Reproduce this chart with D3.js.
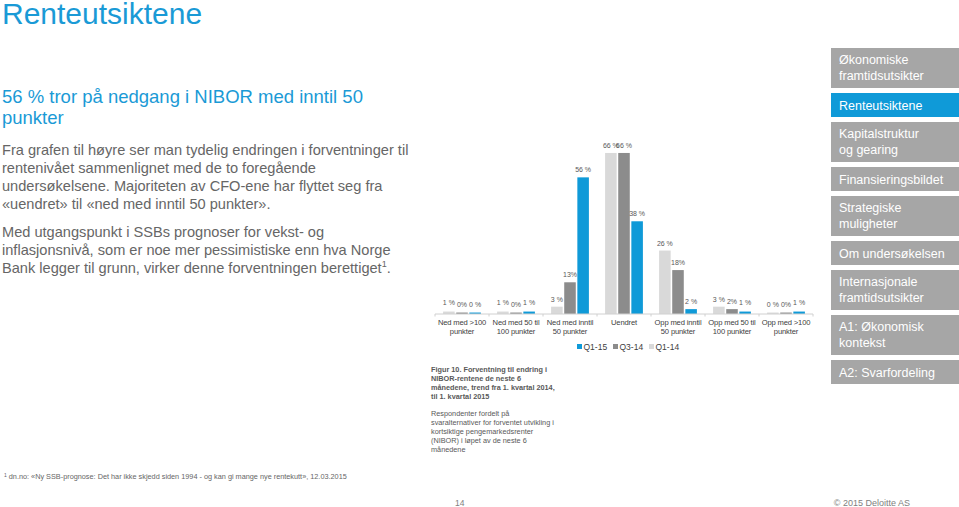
<!DOCTYPE html>
<html><head><meta charset="utf-8">
<script src="https://cdn.jsdelivr.net/npm/d3@7"></script>
<style>
html,body{margin:0;padding:0;background:#fff;}
svg{display:block;font-family:"Liberation Sans",Arial,sans-serif;}
</style></head>
<body>
<script>
const categories = [["Ned med >100","punkter"],["Ned med 50 til","100 punkter"],["Ned med inntil","50 punkter"],["Uendret"],["Opp med inntil","50 punkter"],["Opp med 50 til","100 punkter"],["Opp med >100","punkter"]];
const seriesNames = ["Q1-14","Q3-14","Q1-15"];
const q1_14 = [1,1,3,66,26,3,0];
const q3_14 = [0,0,13,66,18,2,0];
const q1_15 = [0,1,56,38,2,1,1];
const labels_q1_14 = ["1 %","1 %","3 %","66 %","26 %","3 %","0 %"];
const labels_q3_14 = ["0%","0%","13%","66 %","18%","2%","0%"];
const labels_q1_15 = ["0 %","1 %","56 %","38 %","2 %","1 %","1 %"];
const legendOrder = ["Q1-15","Q3-14","Q1-14"];
const menuItems = [["Økonomiske","framtidsutsikter"],["Renteutsiktene"],["Kapitalstruktur","og gearing"],["Finansieringsbildet"],["Strategiske","muligheter"],["Om undersøkelsen"],["Internasjonale","framtidsutsikter"],["A1: Økonomisk","kontekst"],["A2: Svarfordeling"]];
const activeMenu = "Renteutsiktene";

const W = 959, H = 507;
const blue = "#0f9ad8", titleBlue = "#1a9ad6";
const colors = {"Q1-14":"#d9d9d9","Q3-14":"#8c8c8c","Q1-15":"#0f9ad8"};
const values = {"Q1-14":q1_14,"Q3-14":q3_14,"Q1-15":q1_15};
const vlabels = {"Q1-14":labels_q1_14,"Q3-14":labels_q3_14,"Q1-15":labels_q1_15};

const svg = d3.select("body").append("svg").attr("width",W).attr("height",H);

// Title
svg.append("text").attr("x",2).attr("y",24).attr("fill",titleBlue)
  .attr("font-size",30).text("Renteutsiktene");

// Subtitle
const sub = svg.append("text").attr("fill",titleBlue).attr("font-size",18.5);
["56 % tror på nedgang i NIBOR med inntil 50","punkter"].forEach((t,i)=>
  sub.append("tspan").attr("x",2).attr("y",103+i*21).text(t));

// Paragraphs
const textCol = "#666666";
const fs = 14.6;
const p1 = ["Fra grafen til høyre ser man tydelig endringen i forventninger til","rentenivået sammenlignet med de to foregående","undersøkelsene. Majoriteten av CFO-ene har flyttet seg fra","«uendret» til «ned med inntil 50 punkter»."];
p1.forEach((t,i)=>svg.append("text").attr("x",2).attr("y",155+i*18).attr("fill",textCol).attr("font-size",fs).text(t));
const p2 = ["Med utgangspunkt i SSBs prognoser for vekst- og","inflasjonsnivå, som er noe mer pessimistiske enn hva Norge"];
p2.forEach((t,i)=>svg.append("text").attr("x",2).attr("y",237+i*18).attr("fill",textCol).attr("font-size",fs).text(t));
const p3 = svg.append("text").attr("x",2).attr("y",273).attr("fill",textCol).attr("font-size",fs);
p3.append("tspan").text("Bank legger til grunn, virker denne forventningen berettiget");
p3.append("tspan").attr("font-size",9).attr("dy",-6).text("1");
p3.append("tspan").attr("dy",6).text(".");

// Chart
const baseY = 314;
const x0 = d3.scaleBand().domain(d3.range(categories.length)).range([435,813]).paddingInner(0.3).paddingOuter(0.15);
const x1 = d3.scaleBand().domain(seriesNames).range([0,x0.bandwidth()]).paddingInner(0.12);
const y = d3.scaleLinear().domain([0,100]).range([baseY, baseY-244]);

const g = svg.append("g");
seriesNames.forEach(s=>{
  g.selectAll(null).data(values[s]).enter().append("rect")
    .attr("x",(d,i)=>x0(i)+x1(s)).attr("width",x1.bandwidth())
    .attr("y",d=>y(Math.max(d,0.6))).attr("height",d=>baseY-y(Math.max(d,0.6)))
    .attr("fill",colors[s]);
  g.selectAll(null).data(values[s]).enter().append("text")
    .attr("x",(d,i)=>x0(i)+x1(s)+x1.bandwidth()/2)
    .attr("y",d=>y(d)-5 - (d<=1?2:0))
    .attr("text-anchor","middle").attr("font-size",7).attr("fill","#595959")
    .text((d,i)=>vlabels[s][i]);
});

// axis
const axis = d3.axisBottom(x0).tickSize(0).tickFormat("");
const ax = svg.append("g").attr("transform",`translate(0,${baseY})`).call(axis);
ax.select(".domain").attr("stroke","#d0d0d0").attr("d","M435,0H813");
const bounds = d3.range(categories.length+1).map(i=> i<categories.length ? x0(i)-x0.step()*x0.paddingInner()/2 : 813);
bounds[0]=435;
ax.selectAll(".bnd").data(bounds).enter().append("line").attr("class","bnd")
  .attr("x1",d=>d).attr("x2",d=>d).attr("y1",0).attr("y2",2.5).attr("stroke","#d0d0d0");

categories.forEach((lines,i)=>{
  const t = svg.append("text").attr("text-anchor","middle").attr("font-size",7.6).attr("letter-spacing",-0.15).attr("fill","#404040");
  lines.forEach((l,j)=>t.append("tspan").attr("x",x0(i)+x0.bandwidth()/2).attr("y",324.5+j*9).text(l));
});

// legend
let lx = 577;
legendOrder.forEach(s=>{
  svg.append("rect").attr("x",lx).attr("y",344).attr("width",5).attr("height",5).attr("fill",colors[s]);
  svg.append("text").attr("x",lx+6.5).attr("y",349.5).attr("font-size",8.5).attr("fill","#404040").text(s);
  lx += 36;
});

// Figure caption
const capB = ["Figur 10. Forventning til endring i","NIBOR-rentene de neste 6","månedene, trend fra 1. kvartal 2014,","til 1. kvartal 2015"];
capB.forEach((t,i)=>svg.append("text").attr("x",431).attr("y",372+i*9).attr("font-size",7.3).attr("font-weight","bold").attr("fill","#595959").text(t));
const capN = ["Respondenter fordelt på","svaralternativer for forventet utvikling i","kortsiktige pengemarkedsrenter","(NIBOR) i løpet av de neste 6","månedene"];
capN.forEach((t,i)=>svg.append("text").attr("x",431).attr("y",416+i*9).attr("font-size",7.3).attr("fill","#595959").text(t));

// Sidebar menu
let my = 48;
menuItems.forEach(lines=>{
  const h = lines.length===1 ? 24 : 40;
  const active = lines[0]===activeMenu;
  svg.append("rect").attr("x",831).attr("y",my).attr("width",W-831).attr("height",h).attr("fill",active?blue:"#a6a6a6");
  lines.forEach((l,j)=>svg.append("text").attr("x",839).attr("y",my+(lines.length===1?16.5:16+j*15.5)).attr("font-size",12.5).attr("fill","#fff").text(l));
  my += h+5;
});

// Footnote
const fn = svg.append("text").attr("x",4).attr("y",479).attr("font-size",7).attr("fill","#666666");
fn.append("tspan").attr("font-size",5).attr("dy",-2.5).text("1");
fn.append("tspan").attr("dy",2.5).attr("dx",2).attr("textLength",338).attr("lengthAdjust","spacingAndGlyphs")
  .text("dn.no: «Ny SSB-prognose: Det har ikke skjedd siden 1994 - og kan gi mange nye rentekutt», 12.03.2015");

// Page number & copyright
svg.append("text").attr("x",455).attr("y",506).attr("font-size",8.5).attr("fill","#808080").text("14");
svg.append("text").attr("x",910).attr("y",506).attr("text-anchor","end").attr("font-size",9).attr("fill","#808080").text("© 2015 Deloitte AS");
</script>
</body></html>
